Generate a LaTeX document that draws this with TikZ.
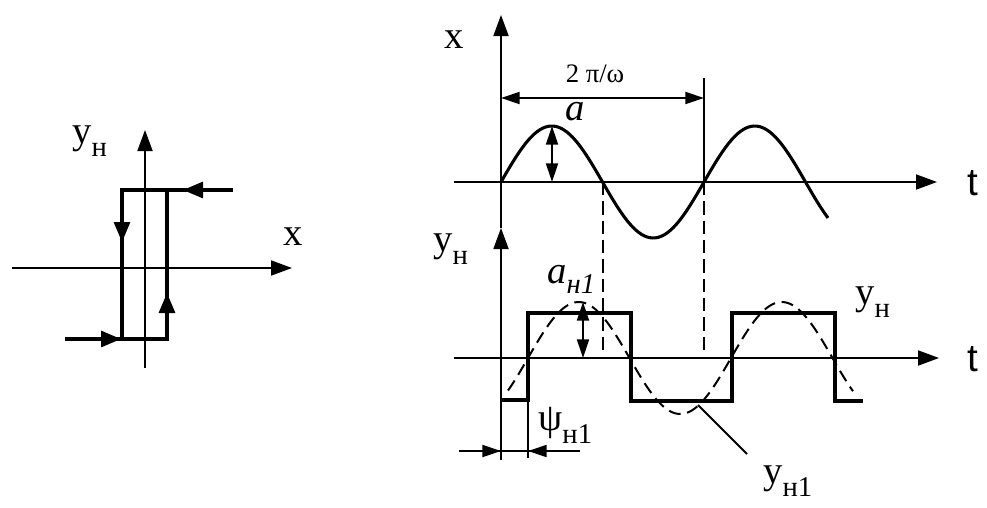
\documentclass[tikz,border=0pt]{standalone}
\usepackage{fontspec}
\setmainfont{Liberation Serif}
\newfontfamily\sansfam{Liberation Sans}
\usetikzlibrary{arrows.meta}
\newcommand\mainfs{\fontsize{29pt}{30pt}\selectfont}
\newcommand\subfs{\fontsize{21.5pt}{22pt}\selectfont}
\newcommand\lowsub[2][10.5pt]{\raisebox{-#1}{\subfs #2}}
\begin{document}
\begin{tikzpicture}[x=0.75pt,y=-0.75pt,
  axis/.style={line width=1.4pt,-{Triangle[length=15.75pt,width=11.25pt]}},
  thinline/.style={line width=1.4pt},
  loopline/.style={line width=2.3pt,line join=miter},
  looparrow/.style={line width=2.3pt,-{Triangle[length=15pt,width=12pt]}},
  curve/.style={line width=2.3pt,line join=round},
  sqwave/.style={line width=2.5pt,line join=miter},
  dashline/.style={line width=1.4pt,dash pattern=on 10pt off 4.5pt},
  harm/.style={line width=1.5pt,dash pattern=on 9pt off 5pt},
  dimarrow/.style={line width=1.4pt,{Triangle[length=14pt,width=9pt]}-{Triangle[length=14pt,width=9pt]}},
  onearrow/.style={line width=1.4pt,-{Triangle[length=14pt,width=9pt]}},
  lab/.style={inner sep=0pt,anchor=base west,font=\mainfs}]
\useasboundingbox (0,0) rectangle (987,507);
\fill[white] (0,0) rectangle (987,507);

% ---------- left: hysteresis relay characteristic ----------
\coordinate (Lo) at (145,268);
\coordinate (LxS) at (12,268);
\coordinate (LxE) at (292,268);
\coordinate (LyS) at (145,368);
\coordinate (LyE) at (145,130);
\draw[axis] (LxS) -- (LxE);
\draw[axis] (LyS) -- (LyE);
\coordinate (TL) at (122,190);
\coordinate (TR) at (167,190);
\coordinate (TE) at (233,190);
\coordinate (BL) at (122,339);
\coordinate (BR) at (167,339);
\coordinate (BS) at (65,339);
\draw[loopline] (TE) -- (TL) -- (BL);
\draw[loopline] (BS) -- (BR) -- (TR);
\draw[looparrow] (203,190) -- (183,190);
\draw[looparrow] (122,221) -- (122,242);
\draw[looparrow] (97,339) -- (121,339);
\draw[looparrow] (167,314) -- (167,293);
\node[lab] (lyn) at (72,143) {y\lowsub[10pt]{н}};
\node[lab] (lx) at (283,245) {x};

% ---------- right top: input sine ----------
\coordinate (O1) at (501,182);
\coordinate (O2) at (501,358);
\draw[axis] (454,182) -- (937,182);
\draw[axis] (501,228) -- (501,15);
\node[lab] (ux) at (444,48) {x};
\node[lab,font=\mainfs\sansfam] (ut) at (967,195) {t};
\draw[curve] plot[domain=501:828,samples=120] (\x,{182-56*sin((\x-501)/203*360)});
\draw[thinline] (704,78) -- (704,182);
\draw[dimarrow] (501,98) -- (704,98);
\node[inner sep=0pt,anchor=base,font=\fontsize{20pt}{21pt}\selectfont] (per) at (595,82) {2 π/ω};
\draw[dimarrow] (552,126) -- (552,182);
\node[lab,font=\mainfs\itshape] (alab) at (565,120) {a};
\draw[dashline] (603,182) -- (603,352);
\draw[dashline] (704,182) -- (704,352);

% ---------- right bottom: relay output ----------
\draw[axis] (454,358) -- (939,358);
\draw[axis] (501,460) -- (501,228);
\node[lab] (lyn2) at (433,251) {y\lowsub[10pt]{н}};
\node[lab,font=\mainfs\sansfam] (lt) at (967,371) {t};
\draw[sqwave] (501,400) -- (528,400) -- (528,313) -- (631,313) -- (631,401)
  -- (732,401) -- (732,313) -- (835,313) -- (835,401) -- (863,401);
\draw[harm] plot[domain=508:853,samples=140] (\x,{358-56*sin((\x-528)/203*360)});
\draw[dimarrow] (583,302) -- (583,358);
\node[lab,font=\mainfs\itshape] (an1) at (547,283) {a\lowsub[7.5pt]{н1}};
% phase shift dimension
\draw[thinline] (528,400) -- (528,458);
\draw[thinline] (459,451) -- (580,451);
\draw[onearrow] (470,451) -- (501,451);
\draw[onearrow] (560,451) -- (528,451);
\node[lab] (psi) at (538,430) {ψ\lowsub[10pt]{н1}};
% labels of output curves
\node[lab] (yn3) at (855,304) {y\lowsub[10pt]{н}};
\coordinate (LdA) at (698,405);
\coordinate (LdB) at (747,454);
\draw[thinline] (LdA) -- (LdB);
\node[lab] (yn1) at (763,483) {y\lowsub[10pt]{н1}};
\end{tikzpicture}
\end{document}
